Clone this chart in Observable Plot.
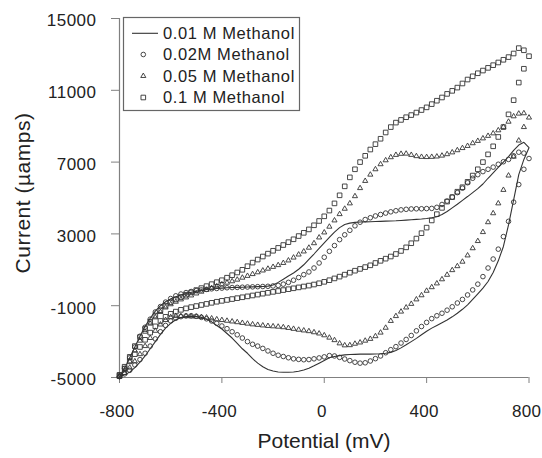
<!DOCTYPE html>
<html><head><meta charset="utf-8">
<script src="https://cdn.jsdelivr.net/npm/d3@7"></script>
<script src="https://cdn.jsdelivr.net/npm/@observablehq/plot@0.6"></script>
<style>
body{margin:0;background:#fff;}
#wrap{position:relative;width:542px;height:458px;overflow:hidden;background:#fff;}
#wrap svg{position:absolute;left:0;top:0;}
</style></head><body><div id="wrap"></div>
<script>
// Potential (mV): forward scan -800 -> 800, then reverse 780 -> -800
const potential = [
-800,-780,-760,-740,-720,-700,-680,-660,-640,-620,
-600,-580,-560,-540,-520,-500,-480,-460,-440,-420,
-400,-380,-360,-340,-320,-300,-280,-260,-240,-220,
-200,-180,-160,-140,-120,-100,-80,-60,-40,-20,
0,20,40,60,80,100,120,140,160,180,
200,220,240,260,280,300,320,340,360,380,
400,420,440,460,480,500,520,540,560,580,
600,620,640,660,680,700,720,740,760,780,
800,
780,760,740,720,700,680,660,640,620,600,
580,560,540,520,500,480,460,440,420,400,
380,360,340,320,300,280,260,240,220,200,
180,160,140,120,100,80,60,40,20,0,
-20,-40,-60,-80,-100,-120,-140,-160,-180,-200,
-220,-240,-260,-280,-300,-320,-340,-360,-380,-400,
-420,-440,-460,-480,-500,-520,-540,-560,-580,-600,
-620,-640,-660,-680,-700,-720,-740,-760,-780,-800];

// Current (µA) for 0.01 M methanol (solid line)
const current001M = [
-4950,-4500,-3900,-3300,-2700,-2150,-1700,-1300,-1000,-780,
-620,-500,-400,-320,-250,-190,-140,-100,-70,-40,
-20,0,10,20,30,40,50,60,70,90,
150,300,470,650,820,1030,1280,1580,1880,2200,
2500,2800,3100,3350,3520,3600,3640,3660,3670,3680,
3690,3700,3710,3720,3730,3750,3770,3790,3810,3830,
3860,3900,3960,4080,4250,4450,4650,4870,5080,5300,
5520,5780,6100,6400,6700,7000,7300,7650,7950,8100,
7800,
7150,6300,4900,3500,2300,1500,850,350,-20,-340,
-650,-950,-1200,-1420,-1620,-1800,-1950,-2100,-2250,-2420,
-2620,-2820,-3000,-3180,-3350,-3500,-3600,-3650,-3680,-3690,
-3700,-3700,-3700,-3710,-3720,-3740,-3780,-3830,-3900,-4050,
-4200,-4350,-4480,-4580,-4650,-4690,-4710,-4710,-4690,-4640,
-4550,-4400,-4200,-3950,-3650,-3400,-3100,-2800,-2550,-2300,
-2100,-1900,-1750,-1650,-1600,-1580,-1600,-1660,-1780,-1980,
-2250,-2600,-3000,-3400,-3800,-4150,-4450,-4700,-4850,-4950];

// 0.02 M methanol (circles)
const current002M = [
-4950,-4500,-3900,-3300,-2700,-2200,-1750,-1350,-1050,-800,
-600,-450,-350,-270,-210,-160,-120,-90,-60,-40,
-20,0,10,20,30,40,50,60,70,80,
100,130,200,300,420,570,730,880,1100,1380,
1700,2030,2350,2680,2950,3200,3450,3650,3800,3900,
4000,4080,4160,4230,4290,4340,4370,4390,4400,4400,
4410,4420,4480,4640,4830,5050,5300,5550,5850,6100,
6300,6470,6600,6720,6880,7020,7150,7350,7550,7500,
7200,
6600,5750,4770,3700,2850,2150,1600,1100,620,200,
-120,-400,-650,-850,-1060,-1250,-1420,-1560,-1720,-1930,
-2160,-2400,-2660,-2880,-3080,-3280,-3450,-3620,-3800,-3950,
-4080,-4180,-4200,-4150,-4060,-3970,-3880,-3800,-3780,-3850,
-3910,-3960,-4000,-4010,-3990,-3960,-3900,-3830,-3760,-3650,
-3520,-3380,-3250,-3150,-3000,-2800,-2620,-2450,-2280,-2130,
-1980,-1850,-1730,-1650,-1590,-1560,-1570,-1610,-1700,-1850,
-2100,-2450,-2850,-3250,-3650,-4000,-4300,-4600,-4800,-4950];

// 0.05 M methanol (triangles)
const current005M = [
-4950,-4600,-4100,-3500,-2950,-2450,-2000,-1650,-1350,-1100,
-920,-780,-650,-540,-430,-320,-220,-120,-20,80,
190,280,360,450,560,660,760,860,960,1060,
1160,1260,1380,1520,1680,1850,2020,2230,2480,2800,
3080,3400,3750,4100,4400,4700,5100,5550,5950,6300,
6600,6880,7100,7270,7400,7460,7470,7400,7330,7290,
7280,7290,7310,7360,7440,7540,7660,7780,7900,8050,
8180,8320,8460,8600,8770,8960,9250,9550,9700,9720,
9480,
8950,8200,7300,6250,5450,4700,4150,3650,3100,2600,
2200,1800,1450,1200,980,720,470,240,30,-170,
-420,-650,-900,-1100,-1330,-1580,-1850,-2230,-2500,-2700,
-2850,-2950,-3050,-3120,-3200,-3210,-3100,-2920,-2780,-2650,
-2550,-2480,-2420,-2380,-2340,-2290,-2240,-2200,-2170,-2150,
-2130,-2100,-2070,-2040,-2000,-1960,-1920,-1880,-1840,-1800,
-1760,-1710,-1660,-1630,-1610,-1600,-1580,-1580,-1570,-1640,
-1800,-2050,-2400,-2800,-3250,-3700,-4100,-4450,-4750,-4950];

// 0.1 M methanol (squares)
const current01M = [
-4900,-4400,-3850,-3250,-2750,-2300,-1900,-1550,-1250,-1000,
-800,-650,-520,-390,-260,-130,-20,90,200,310,
420,560,700,850,1000,1200,1400,1570,1740,1900,
2060,2220,2380,2540,2700,2880,3060,3250,3480,3720,
3980,4300,4700,5150,5650,6150,6600,7000,7350,7700,
8000,8300,8650,8950,9200,9350,9500,9620,9760,9900,
10050,10230,10420,10600,10800,10970,11150,11380,11600,11780,
11950,12100,12250,12400,12550,12700,12850,13050,13350,13230,
12900,
12200,11430,10450,9660,8950,8400,7880,7430,7000,6600,
6250,5900,5600,5350,5050,4800,4450,4100,3750,3350,
3040,2740,2480,2250,2050,1880,1740,1620,1500,1380,
1250,1150,1050,950,840,730,620,520,420,330,
250,180,120,70,20,-30,-80,-130,-180,-230,
-280,-330,-380,-430,-480,-530,-580,-630,-680,-730,
-780,-840,-900,-960,-1020,-1080,-1150,-1230,-1330,-1450,
-1620,-1850,-2150,-2500,-2900,-3300,-3700,-4100,-4500,-4850];

const seriesNames = ["0.01 M Methanol", "0.02M Methanol", "0.05 M Methanol", "0.1 M Methanol"];
const xTicks = [-800, -400, 0, 400, 800];
const yTicks = [-5000, -1000, 3000, 7000, 11000, 15000];
const xTitle = "Potential (mV)";
const yTitle = "Current (µamps)";

const ink = "#333";
const axisGray = "#808080";
const font = "'Liberation Sans', Arial, Helvetica, sans-serif";
const rows = cur => potential.map((p, i) => ({p, c: cur[i]}));

const chart = Plot.plot({
  width: 542, height: 458,
  marginLeft: 119, marginRight: 13.5, marginTop: 18, marginBottom: 81,
  style: {fontFamily: font, fontSize: "17px", color: "#222", background: "transparent"},
  x: {domain: [-800, 800], ticks: xTicks, tickFormat: d => String(d), tickSize: 6, tickPadding: 21, label: null},
  y: {domain: [-5000, 15000], ticks: yTicks, tickFormat: d => String(d), tickSize: 8, tickPadding: 15, label: null},
  marks: [
    Plot.ruleX([-800], {stroke: axisGray, strokeWidth: 1.2}),
    Plot.ruleY([-5000], {stroke: axisGray, strokeWidth: 1.2}),
    Plot.line(rows(current001M), {x: "p", y: "c", stroke: ink, strokeWidth: 1.1}),
    Plot.dot(rows(current002M), {x: "p", y: "c", symbol: "circle", r: 2.3, stroke: ink, fill: "none", strokeWidth: 0.9}),
    Plot.dot(rows(current005M), {x: "p", y: "c", symbol: "triangle", r: 1.9, stroke: ink, fill: "none", strokeWidth: 0.9}),
    Plot.dot(rows(current01M), {x: "p", y: "c", symbol: "square", r: 2.6, stroke: ink, fill: "none", strokeWidth: 0.9})
  ]
});

// style axis ticks/labels
chart.querySelectorAll('[aria-label*="axis"] line, [aria-label*="axis"] path').forEach(e => {
  e.setAttribute("stroke", axisGray);
});
chart.querySelectorAll('[aria-label^="x-axis"] text').forEach(e => {
  e.setAttribute("fill", "#222");
  e.style.letterSpacing = "0.3px";
  e.setAttribute("dx", "-2.5");
});
chart.querySelectorAll('[aria-label^="y-axis"] text').forEach(e => {
  e.setAttribute("fill", "#222");
  e.style.letterSpacing = "0.5px";
  const dy = e.getAttribute("dy");
  if (dy && dy.endsWith("em")) e.setAttribute("dy", (parseFloat(dy) + 0.15) + "em");
  else e.setAttribute("dy", (parseFloat(dy || 0) + 2.5));
});
document.getElementById("wrap").appendChild(chart);

// overlay: axis titles and legend
const ov = d3.create("svg").attr("width", 542).attr("height", 458)
  .style("pointer-events", "none").style("font-family", font).attr("fill", "#222");
ov.append("text").attr("x", 324).attr("y", 448).attr("text-anchor", "middle")
  .style("font-size", "21px").text(xTitle);
ov.append("text").attr("transform", "translate(30,193) rotate(-90)").attr("text-anchor", "middle")
  .style("font-size", "21px").style("letter-spacing", "0.5px").text(yTitle);

const lg = ov.append("g");
lg.append("rect").attr("x", 123.5).attr("y", 17.5).attr("width", 176).attr("height", 93)
  .attr("fill", "white").attr("stroke", "#666").attr("stroke-width", 1.2);
const rowY = [33.3, 54.5, 76, 97.5];
const legSymbols = [null, d3.symbolCircle, d3.symbolTriangle, d3.symbolSquare];
const legR = [0, 2.3, 1.9, 2.6];
seriesNames.forEach((name, i) => {
  const cy = rowY[i];
  if (i === 0) {
    lg.append("line").attr("x1", 132).attr("x2", 158).attr("y1", cy).attr("y2", cy)
      .attr("stroke", ink).attr("stroke-width", 1.1);
  } else {
    lg.append("path").attr("transform", `translate(143.3,${cy})`)
      .attr("d", d3.symbol(legSymbols[i], Math.PI * legR[i] * legR[i])())
      .attr("fill", "none").attr("stroke", ink).attr("stroke-width", 0.9);
  }
  lg.append("text").attr("x", 163).attr("y", cy + 5.9)
    .style("font-size", "16.5px").style("letter-spacing", "0.6px").text(name);
});
document.getElementById("wrap").appendChild(ov.node());
</script>
</body></html>
